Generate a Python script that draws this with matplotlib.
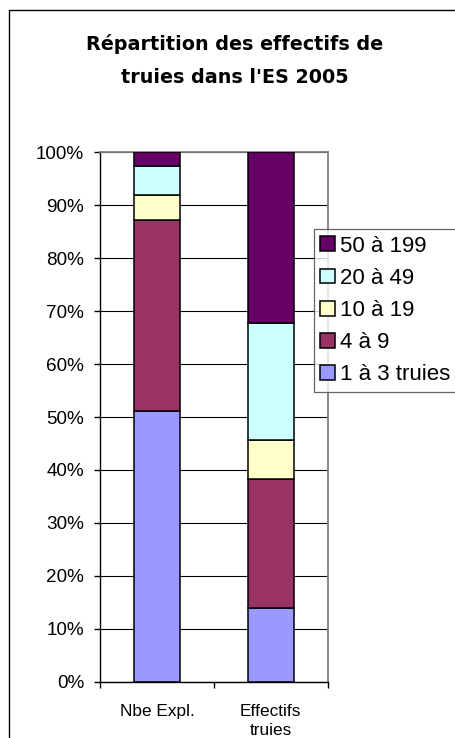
import matplotlib.pyplot as plt
from matplotlib.patches import Rectangle
import numpy as np

# Share of each herd-size class (%), stacked from bottom to top
categories = ['Nbe Expl.', 'Effectifs\ntruies']
classes = ['1 à 3 truies', '4 à 9', '10 à 19', '20 à 49', '50 à 199']
shares = {
    '1 à 3 truies': [51.2, 13.9],
    '4 à 9':        [36.0, 24.4],
    '10 à 19':      [4.8, 7.4],
    '20 à 49':      [5.5, 22.0],
    '50 à 199':     [2.5, 32.3],
}
colors = ['#9999FF', '#993366', '#FFFFCC', '#CCFFFF', '#660066']
title = "Répartition des effectifs de\ntruies dans l'ES 2005"

W, H = 455, 738
fig = plt.figure(figsize=(W / 100, H / 100), dpi=100)
fig.patch.set_facecolor('white')

# outer chart border (runs off the right and bottom edges)
fig.patches.append(Rectangle((9 / W, -0.05), 1.1, 1 - 10 / H + 0.05,
                             transform=fig.transFigure, fill=False,
                             edgecolor='black', linewidth=1.0))

fig.text(235 / W, 1 - 60.5 / H, title, ha='center', va='center',
         fontsize=13.8, fontweight='bold', family='DejaVu Sans',
         linespacing=1.95)

ax = fig.add_axes([100 / W, 1 - 681.7 / H, 227.7 / W, 529.4 / H])
x = np.arange(len(categories))
bottom = np.zeros(len(categories))
handles = []
for cls, col in zip(classes, colors):
    vals = np.array(shares[cls])
    b = ax.bar(x, vals, width=0.4, bottom=bottom, color=col,
               edgecolor='black', linewidth=1.1, label=cls, zorder=3)
    handles.append(b)
    bottom += vals

ax.set_xlim(-0.5, 1.5)
ax.set_ylim(0, 100)
ax.set_yticks(np.arange(0, 101, 10))
ax.set_yticklabels([f'{v}%' for v in range(0, 101, 10)])
ax.yaxis.grid(True, color='black', linewidth=0.8, zorder=0)

# category boundaries get the tick marks, names sit between them
ax.set_xticks([-0.5, 0.5, 1.5])
ax.set_xticklabels([])
ax.set_xticks(x, minor=True)
ax.set_xticklabels(categories, minor=True, linespacing=1.3)
ax.tick_params(axis='x', which='minor', length=0, pad=16,
               labelsize=12.4, labelfontfamily='Liberation Sans')
ax.tick_params(axis='x', which='major', length=4, width=1, direction='out')
ax.tick_params(axis='y', length=4.5, width=1, direction='out', pad=7,
               labelsize=13.6, labelfontfamily='Liberation Sans')

for side in ['top', 'right']:
    ax.spines[side].set_color('#808080')
    ax.spines[side].set_linewidth(1.3)
for side in ['left', 'bottom']:
    ax.spines[side].set_color('black')
    ax.spines[side].set_linewidth(1.0)

leg = fig.legend(handles[::-1], classes[::-1], loc='upper left',
                 bbox_to_anchor=(313.5 / W, 1 - 229 / H), borderaxespad=0,
                 prop={'family': 'Liberation Sans', 'size': 16},
                 fancybox=False, frameon=True, edgecolor='#404040',
                 handlelength=0.65, handleheight=0.65, handletextpad=0.25,
                 labelspacing=0.5, borderpad=0.3)
leg.get_frame().set_linewidth(0.9)

fig.savefig('out.png', dpi=100)
